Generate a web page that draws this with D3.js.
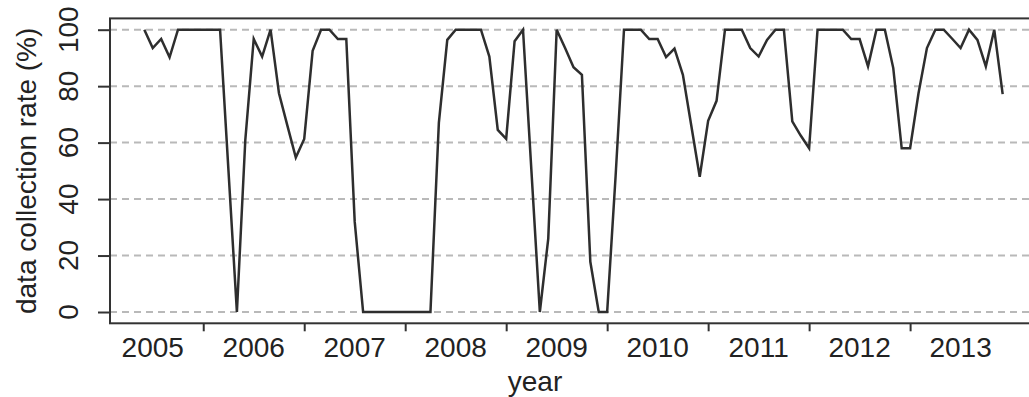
<!DOCTYPE html>
<html><head><meta charset="utf-8">
<script src="https://cdn.jsdelivr.net/npm/d3@7/dist/d3.min.js"></script>
<style>
html,body{margin:0;padding:0;background:#fff;}
svg{display:block;}
text{font-family:"Liberation Sans",Arial,sans-serif;fill:#222;}
</style></head>
<body><svg id="chart" width="1029" height="397"></svg>
<script>
// monthly data collection rate (%), Jun 2005 .. Dec 2013
const startYear = 2005, startMonth = 5; // 0-based month index (June)
const rates = [
  100, 93.5, 96.7, 90.2, 100, 100, 100,
  100, 100, 100, 50, 0, 61, 96.7, 90.5, 100, 77.5, 66, 54.7,
  61.3, 92.5, 100, 100, 96.7, 96.7, 32, 0, 0, 0, 0, 0,
  0, 0, 0, 0, 67, 96.4, 100, 100, 100, 100, 90.5, 64.5,
  61.3, 95.9, 100, 50, 0, 26, 100, 93.5, 86.7, 84, 17.8, 0,
  0, 48, 100, 100, 100, 96.7, 96.7, 90.3, 93.3, 84, 66, 47.9,
  67.7, 74.8, 100, 100, 100, 93.5, 90.5, 96.4, 100, 100, 67.5, 62.5,
  58, 100, 100, 100, 100, 96.7, 96.7, 87, 100, 100, 86.4, 58,
  58, 77.5, 93.5, 100, 100, 96.8, 93.5, 100, 96.4, 87, 100, 77.2
];
const yTicks = [0, 20, 40, 60, 80, 100];
const yearTicks = [2006, 2007, 2008, 2009, 2010, 2011, 2012, 2013];
const yearLabels = [2005, 2006, 2007, 2008, 2009, 2010, 2011, 2012, 2013];
const xTitle = "year";
const yTitle = "data collection rate (%)";

const data = rates.map((v, i) => ({t: startYear + (startMonth + i) / 12, v}));

const svg = d3.select("#chart");
const L = 110, R = 1037, T = 18.4, B = 323.3;

// R-style 4% axis extension
const tExt = d3.extent(data, d => d.t);
const pad = (tExt[1] - tExt[0]) * 0.04;
const x = d3.scaleLinear().domain([tExt[0] - pad, tExt[1] + pad]).range([L, R]);
const y = d3.scaleLinear().domain([-4, 104]).range([B, T]);

// grid
svg.append("g").selectAll("line").data(yTicks).join("line")
  .attr("x1", L).attr("x2", R)
  .attr("y1", d => y(d)).attr("y2", d => y(d))
  .attr("stroke", "#b9b9b9").attr("stroke-width", 2)
  .attr("stroke-dasharray", "7,5");

// line
svg.append("path").datum(data)
  .attr("fill", "none").attr("stroke", "#2e2e2e").attr("stroke-width", 2.5)
  .attr("stroke-linejoin", "miter")
  .attr("d", d3.line().x(d => x(d.t)).y(d => y(d.v)));

// box
svg.append("rect").attr("x", L).attr("y", T).attr("width", R - L).attr("height", B - T)
  .attr("fill", "none").attr("stroke", "#333").attr("stroke-width", 2);

// x axis: ticks at year boundaries, labels at mid-year
const xAxis = d3.axisBottom(x).tickValues(yearTicks).tickSize(8).tickFormat("");
const gx = svg.append("g").attr("transform", `translate(0,${B})`).call(xAxis);
gx.select(".domain").remove();
gx.selectAll(".tick line").attr("stroke", "#333").attr("stroke-width", 2);
svg.append("g").selectAll("text").data(yearLabels).join("text")
  .attr("x", d => x(d + 0.5)).attr("y", 357)
  .attr("text-anchor", "middle").attr("font-size", 28)
  .text(d => d);

// y axis
const yAxis = d3.axisLeft(y).tickValues(yTicks).tickSize(12).tickFormat("");
const gy = svg.append("g").attr("transform", `translate(${L},0)`).call(yAxis);
gy.select(".domain").remove();
gy.selectAll(".tick line").attr("stroke", "#333").attr("stroke-width", 2);
svg.append("g").selectAll("text").data(yTicks).join("text")
  .attr("transform", d => `translate(78,${y(d)}) rotate(-90)`)
  .attr("text-anchor", "middle").attr("font-size", 28)
  .text(d => d);

// titles
svg.append("text").attr("x", 535).attr("y", 391)
  .attr("text-anchor", "middle").attr("font-size", 28).text(xTitle);
svg.append("text").attr("transform", `translate(36,${(T + B) / 2}) rotate(-90)`)
  .attr("text-anchor", "middle").attr("font-size", 28).text(yTitle);
</script></body></html>
